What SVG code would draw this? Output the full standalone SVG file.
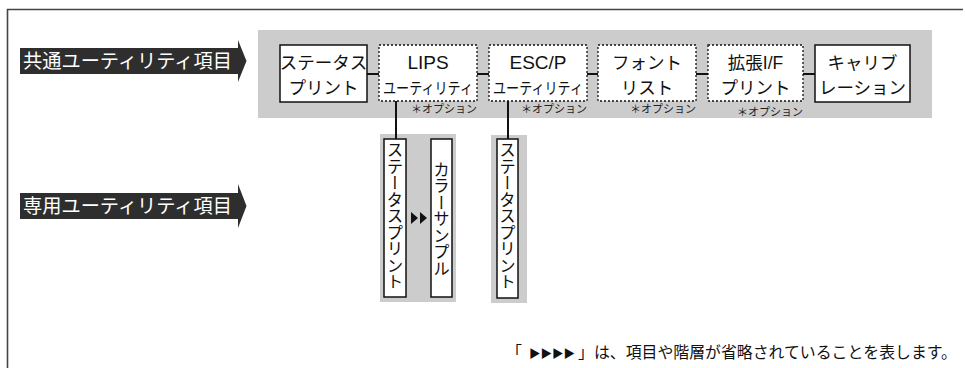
<svg xmlns="http://www.w3.org/2000/svg" width="965" height="368" viewBox="0 0 965 368">
<style>
.jp{font-family:"Noto Sans CJK JP","Noto Sans",sans-serif;}
.lat{font-family:"Liberation Sans","Noto Sans CJK JP",sans-serif;}
.box{fill:#fff;stroke:#111;stroke-width:1.5;}
.opt{fill:#fff;stroke:#111;stroke-width:1.3;stroke-dasharray:2 2;}
.t{font-size:17.5px;fill:#111;text-anchor:middle;}
.s{font-size:11px;fill:#222;text-anchor:end;}
.v{font-size:16.5px;fill:#111;text-anchor:middle;writing-mode:vertical-rl;}
.lbl{fill:#2e2e2e;}
.lt{font-size:19.5px;fill:#fff;font-weight:normal;}
.gray{fill:#cccccc;}
.con{stroke:#111;stroke-width:2;fill:none;}
.n{font-size:16px;fill:#111;}
</style>
<path d="M7.5,368 V9.5 H963" fill="none" stroke="#444" stroke-width="1.6"/>

<g id="label-common">
<polygon class="lbl" points="20,48 238,48 238,40 246.5,61 238,82 238,74 20,74"/>
<text class="jp lt" x="23" y="68" textLength="209" lengthAdjust="spacingAndGlyphs">共通ユーティリティ項目</text>
</g>
<g id="label-dedicated">
<polygon class="lbl" points="20,193 238,193 238,184 246.5,206 238,228 238,219 20,219"/>
<text class="jp lt" x="23" y="213" textLength="209" lengthAdjust="spacingAndGlyphs">専用ユーティリティ項目</text>
</g>

<rect class="gray" x="258" y="30" width="674" height="88"/>
<rect class="gray" x="380" y="134" width="76" height="168"/>
<rect class="gray" x="491" y="135" width="36" height="168"/>

<g id="connectors">
<line class="con" x1="367" y1="74" x2="379" y2="74"/>
<line class="con" x1="477" y1="74" x2="489" y2="74"/>
<line class="con" x1="587" y1="74" x2="598" y2="74"/>
<line class="con" x1="696" y1="74" x2="708" y2="74"/>
<line class="con" x1="803" y1="74" x2="815" y2="74"/>
<line class="con" x1="396" y1="101" x2="396" y2="139"/>
<line class="con" x1="508" y1="101" x2="508" y2="139"/>
<polygon points="411,212 418,218 411,224" fill="#111"/>
<polygon points="420,212 427,218 420,224" fill="#111"/>
</g>

<g id="status-print">
<rect class="box" x="280" y="45" width="87" height="57"/>
<text class="jp t" x="323.5" y="69">ステータス</text>
<text class="jp t" x="323.5" y="94">プリント</text>
</g>
<g id="lips">
<rect class="opt" x="379" y="45" width="98" height="56"/>
<text class="lat t" x="428" y="69" style="font-size:19px">LIPS</text>
<text class="jp t" x="428" y="94" style="font-size:16px" textLength="90" lengthAdjust="spacingAndGlyphs">ユーティリティ</text>
<text class="jp s" x="477" y="113">＊オプション</text>
</g>
<g id="escp">
<rect class="opt" x="489" y="45" width="98" height="56"/>
<text class="lat t" x="538" y="69" style="font-size:19px">ESC/P</text>
<text class="jp t" x="538" y="94" style="font-size:16px" textLength="90" lengthAdjust="spacingAndGlyphs">ユーティリティ</text>
<text class="jp s" x="587" y="113">＊オプション</text>
</g>
<g id="font-list">
<rect class="opt" x="598" y="45" width="98" height="56"/>
<text class="jp t" x="647" y="69">フォント</text>
<text class="jp t" x="647" y="94">リスト</text>
<text class="jp s" x="696" y="113">＊オプション</text>
</g>
<g id="ext-if">
<rect class="opt" x="708" y="45" width="95" height="56"/>
<text class="jp t" x="755.5" y="69">拡張<tspan class="lat">I/F</tspan></text>
<text class="jp t" x="755.5" y="94">プリント</text>
<text class="jp s" x="803" y="116">＊オプション</text>
</g>
<g id="calibration">
<rect class="box" x="815" y="45" width="95" height="57"/>
<text class="jp t" x="862.5" y="69">キャリブ</text>
<text class="jp t" x="862.5" y="94">レーション</text>
</g>

<g id="lips-status-print">
<rect class="box" x="384" y="139" width="22" height="158"/>
<text class="jp v" x="395" y="216">ステータスプリント</text>
</g>
<g id="color-sample">
<rect class="box" x="431" y="139" width="21" height="158"/>
<text class="jp v" x="441.5" y="219">カラーサンプル</text>
</g>
<g id="escp-status-print">
<rect class="box" x="497" y="139" width="21" height="159"/>
<text class="jp v" x="507.5" y="216">ステータスプリント</text>
</g>

<g id="note">
<text class="jp n" y="358"><tspan x="506">「</tspan><tspan x="529" style="font-size:11.5px">▶▶▶▶</tspan><tspan x="578" textLength="379" lengthAdjust="spacingAndGlyphs">」は、項目や階層が省略されていることを表します。</tspan></text>
</g>
</svg>
